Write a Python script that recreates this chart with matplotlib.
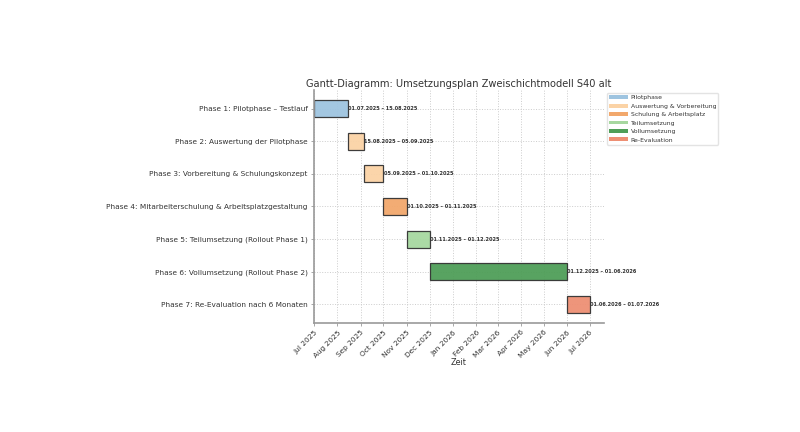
import matplotlib
matplotlib.use("Agg")
import matplotlib.pyplot as plt
import matplotlib.dates as mdates
from matplotlib.patches import Patch
import pandas as pd

phases = [
    "Phase 1: Pilotphase – Testlauf",
    "Phase 2: Auswertung der Pilotphase",
    "Phase 3: Vorbereitung & Schulungskonzept",
    "Phase 4: Mitarbeiterschulung & Arbeitsplatzgestaltung",
    "Phase 5: Teilumsetzung (Rollout Phase 1)",
    "Phase 6: Vollumsetzung (Rollout Phase 2)",
    "Phase 7: Re-Evaluation nach 6 Monaten",
]
starts = ["2025-07-01", "2025-08-15", "2025-09-05", "2025-10-01", "2025-11-01", "2025-12-01", "2026-06-01"]
ends = ["2025-08-15", "2025-09-05", "2025-10-01", "2025-11-01", "2025-12-01", "2026-06-01", "2026-07-01"]
groups = ["Pilotphase", "Auswertung & Vorbereitung", "Auswertung & Vorbereitung",
          "Schulung & Arbeitsplatz", "Teilumsetzung", "Vollumsetzung", "Re-Evaluation"]
legend_labels = ["Pilotphase", "Auswertung & Vorbereitung", "Schulung & Arbeitsplatz",
                 "Teilumsetzung", "Vollumsetzung", "Re-Evaluation"]
legend_colors = ["#9ec4e0", "#fbd3a6", "#f2a86c", "#a7d8a0", "#4f9e58", "#ee8f74"]
color_map = dict(zip(legend_labels, legend_colors))

fig = plt.figure(figsize=(8, 4.32), dpi=100)
ax = fig.add_axes([0.3925, 0.2523, 0.3625, 0.5394])

s = pd.to_datetime(starts)
e = pd.to_datetime(ends)
for i, (name, st, en, g) in enumerate(zip(phases, s, e, groups)):
    ax.barh(i, mdates.date2num(en) - mdates.date2num(st), left=mdates.date2num(st),
            height=0.52, color=color_map[g], edgecolor="#333333", linewidth=0.9, alpha=0.95)
    ax.text(mdates.date2num(en) + 0.5, i, f"{st:%d.%m.%Y} – {en:%d.%m.%Y}",
            va="center", ha="left", fontsize=3.6, color="#333333", fontweight="bold")

ax.set_yticks(range(len(phases)))
ax.set_yticklabels(phases, fontsize=5.3, color="#333333")
ax.set_ylim(6.57, -0.57)
ax.set_xlim(mdates.date2num(pd.Timestamp("2025-07-01")), mdates.date2num(pd.Timestamp("2026-07-20")))
ax.xaxis.set_major_locator(mdates.MonthLocator())
ax.xaxis.set_major_formatter(mdates.DateFormatter("%b %Y"))
plt.setp(ax.get_xticklabels(), rotation=45, ha="right", rotation_mode="anchor", fontsize=5.3, color="#333333")
ax.set_xlabel("Zeit", fontsize=5.8, color="#333333", labelpad=-1)
ax.set_title("Gantt-Diagramm: Umsetzungsplan Zweischichtmodell S40 alt", fontsize=7.1, color="#333333", pad=2.5)

ax.grid(True, linestyle=":", color="#cccccc", linewidth=0.7)
ax.set_axisbelow(True)
for sp in ["top", "right"]:
    ax.spines[sp].set_visible(False)
for sp in ["left", "bottom"]:
    ax.spines[sp].set_color("#999999")
    ax.spines[sp].set_linewidth(1.2)
ax.tick_params(axis="both", length=2.5, width=0.6, color="#999999", pad=2)

handles = [Patch(facecolor=c, label=l) for l, c in zip(legend_labels, legend_colors)]
ax.legend(handles=handles, loc="upper left", bbox_to_anchor=(1.0, 1.0), fontsize=4.4,
          frameon=True, handlelength=3.0, handleheight=0.6, labelspacing=0.55, borderpad=0.35,
          handletextpad=0.5, edgecolor="#dddddd", labelcolor="#333333")

fig.savefig("out.png", dpi=100)
